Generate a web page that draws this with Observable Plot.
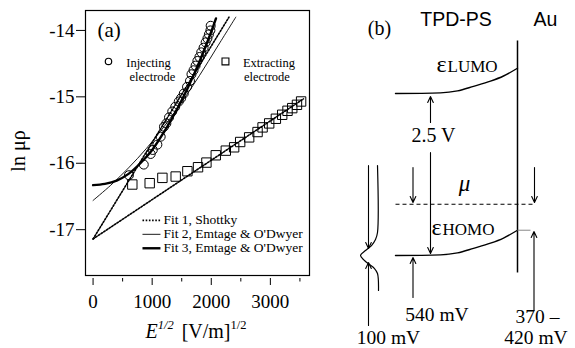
<!DOCTYPE html>
<html><head><meta charset="utf-8">
<script src="https://cdn.jsdelivr.net/npm/d3@7"></script>
<script src="https://cdn.jsdelivr.net/npm/@observablehq/plot@0.6"></script>
<style>
body{margin:0;background:#fff;}
#wrap{display:flex;width:575px;height:348px;background:#fff;}
svg{display:block}
</style></head><body><div id="wrap"></div>
<script>
// ---------- Panel (a) data ----------
const injectE  = [607, 858, 975, 1010, 1088, 1144, 1200, 1240, 1285, 1340, 1390, 1450, 1490, 1535, 1590, 1640, 1665, 1700, 1735, 1765, 1800, 1830, 1870, 1905, 1935, 1960, 1985, 1990];
const injectLn = [-16.18, -16.02, -15.86, -15.80, -15.72, -15.60, -15.45, -15.40, -15.31, -15.22, -15.15, -15.07, -15.02, -14.95, -14.85, -14.76, -14.66, -14.60, -14.53, -14.46, -14.40, -14.33, -14.26, -14.18, -14.12, -14.06, -14.00, -13.93];
const extractE  = [664, 958, 1173, 1398, 1596, 1776, 1918, 2076, 2246, 2387, 2489, 2641, 2783, 2868, 2980, 3093, 3200, 3290, 3370, 3450, 3520];
const extractLn = [-16.32, -16.30, -16.22, -16.20, -16.12, -16.06, -15.99, -15.88, -15.81, -15.76, -15.68, -15.61, -15.53, -15.46, -15.40, -15.33, -15.27, -15.21, -15.17, -15.12, -15.07];
const fit1InjE = [0, 2300],  fit1InjLn = [-17.14, -13.80];
const fit1ExtE = [0, 3560],  fit1ExtLn = [-17.14, -15.03];
const fit2E  = [0, 300, 600, 900, 1200, 1500, 1800, 2100, 2415];
const fit2Ln = [-16.56, -16.33, -16.07, -15.78, -15.45, -15.08, -14.68, -14.25, -13.80];
const fit3E  = [0, 200, 400, 600, 800, 1000, 1200, 1400, 1600, 1800, 2000, 2080];
const fit3Ln = [-16.33, -16.31, -16.26, -16.16, -16.00, -15.80, -15.53, -15.22, -14.87, -14.47, -14.02, -13.82];
const xMajor = [0, 1000, 2000, 3000];
const xMinor = [500, 1500, 2500, 3500];
const yTicks = [-17, -16, -15, -14];
const fitLabels = ["Fit 1, Shottky", "Fit 2, Emtage & O'Dwyer", "Fit 3, Emtage & O'Dwyer"];

// ---------- Panel (b) data (energies in V, HOMO bulk = 0) ----------
const levelLUMO = 2.5, levelHOMO = 0, levelMu = 0.79;
const bendX      = [395, 440, 457, 473, 490, 503, 517];
const bendOffset = [0, 0.01, 0.04, 0.11, 0.19, 0.27, 0.39];
const auX = 517, auTop = 3.318, auBottom = -0.262;
const muX = [395, 535];
const contactX = [517, 530];
const dosX = [377, 377, 375, 371, 365, 360, 364, 369, 374, 377, 378];
const dosE = [1.389, 0.355, 0.247, 0.154, 0.077, 0, -0.077, -0.139, -0.201, -0.278, -0.540];
const arrowsB = [
  {x: 430,   e1: 2.052,  e2: 2.454},
  {x: 430,   e1: 1.590,  e2: 0.031},
  {x: 412.5, e1: 1.358,  e2: 0.818},
  {x: 534,   e1: 1.358,  e2: 0.818},
  {x: 412.5, e1: -0.648, e2: -0.031},
  {x: 533.5, e1: -0.849, e2: 0.370},
  {x: 368,   e1: 1.389,  e2: 0.108},
  {x: 368,   e1: -1.080, e2: -0.108}
];
const labelsSerif = [
  {t: "(b)",    x: 379,   e: 3.395,  s: 20, a: "middle"},
  {t: "ε",      x: 446,   e: 2.824,  s: 24, a: "end"},
  {t: "LUMO",   x: 447,   e: 2.824,  s: 17, a: "start"},
  {t: "ε",      x: 441,   e: 0.324,  s: 24, a: "end"},
  {t: "HOMO",   x: 442,   e: 0.324,  s: 17, a: "start"},
  {t: "2.5 V",  x: 433,   e: 1.759,  s: 20, a: "middle"},
  {t: "540 mV", x: 436.5, e: -1.003, s: 19.5, a: "middle"},
  {t: "100 mV", x: 388,   e: -1.358, s: 19.5, a: "middle"},
  {t: "370 –",  x: 537,   e: -1.049, s: 19.5, a: "middle"},
  {t: "420 mV", x: 535.5, e: -1.358, s: 19.5, a: "middle"}
];
const labelMu = [{t: "μ", x: 464, e: 0.988}];
const labelsSans = [{t: "TPD-PS", x: 455.5, e: 3.549}, {t: "Au", x: 545, e: 3.549}];

// ---------- build ----------
const SERIF = "Liberation Serif";
const zip = (xs, ys) => xs.map((x, i) => ({x, y: ys[i]}));
const inject = zip(injectE, injectLn);
const extract = zip(extractE, extractLn);

// legend positions in data units of panel (a)
const legendLineX1 = 836, legendLineX2 = 1140, legendTextX = 1191;
const legendLineY = [-16.86, -17.07, -17.28];
const legendTextY = [-16.92, -17.13, -17.34];

const A = Plot.plot({
  width: 320, height: 348,
  marginLeft: 85, marginRight: 11, marginTop: 10, marginBottom: 73,
  x: {domain: [-128, 3662]},
  y: {domain: [-17.69, -13.70]},
  style: {fontFamily: SERIF, background: "white", color: "black", overflow: "visible"},
  marks: [
    Plot.frame({strokeWidth: 1.2}),
    Plot.axisY({ticks: yTicks, tickSize: 9, tickPadding: 2, tickFormat: d => String(d), fontSize: 19, fontFamily: SERIF, label: null}),
    Plot.axisX({ticks: xMajor, tickSize: 7, tickPadding: 9, dy: 3, tickFormat: d => String(d), fontSize: 19, fontFamily: SERIF, label: null}),
    Plot.axisX({ticks: xMinor, tickSize: 3.5, dy: 3, tickFormat: () => "", label: null}),
    Plot.line(zip(fit1InjE, fit1InjLn), {x: "x", y: "y", strokeWidth: 1.6, strokeDasharray: "1.6 1.6"}),
    Plot.line(zip(fit1ExtE, fit1ExtLn), {x: "x", y: "y", strokeWidth: 1.6, strokeDasharray: "1.6 1.6"}),
    Plot.line(zip(fit2E, fit2Ln), {x: "x", y: "y", strokeWidth: 0.9, curve: "catmull-rom"}),
    Plot.line(zip(fit3E, fit3Ln), {x: "x", y: "y", strokeWidth: 2.4, curve: "catmull-rom"}),
    Plot.dot(inject, {x: "x", y: "y", r: 4.5, stroke: "black", strokeWidth: 1, fill: "none"}),
    Plot.dot(extract, {x: "x", y: "y", r: 5.3, symbol: "square", stroke: "black", strokeWidth: 1, fill: "none"}),
    // legend: markers
    Plot.dot([{x: 261, y: -14.467}], {x: "x", y: "y", r: 3.2, stroke: "black", strokeWidth: 1.2, fill: "none"}),
    Plot.dot([{x: 2240, y: -14.467}], {x: "x", y: "y", r: 3.9, symbol: "square", stroke: "black", strokeWidth: 1.1, fill: "none"}),
    Plot.text([{t: "Injecting", x: 937, y: -14.549}, {t: "electrode", x: 1005, y: -14.760},
               {t: "Extracting", x: 2976, y: -14.549}, {t: "electrode", x: 2942, y: -14.760}],
      {x: "x", y: "y", text: "t", fontSize: 12.5, fontFamily: SERIF, lineAnchor: "bottom", textAnchor: "middle"}),
    Plot.text([{t: "(a)", x: 75, y: -14.105}], {x: "x", y: "y", text: "t", fontSize: 21, fontFamily: SERIF, lineAnchor: "bottom", textAnchor: "start"}),
    // legend: fits
    Plot.link([0], {x1: legendLineX1, x2: legendLineX2, y1: legendLineY[0], y2: legendLineY[0], strokeWidth: 1.6, strokeDasharray: "1.6 1.6"}),
    Plot.link([0], {x1: legendLineX1, x2: legendLineX2, y1: legendLineY[1], y2: legendLineY[1], strokeWidth: 0.9}),
    Plot.link([0], {x1: legendLineX1, x2: legendLineX2, y1: legendLineY[2], y2: legendLineY[2], strokeWidth: 2.4}),
    Plot.text(fitLabels, {x: legendTextX, y: (d, i) => legendTextY[i], text: d => d, fontSize: 13.5, fontFamily: SERIF, lineAnchor: "bottom", textAnchor: "start"}),
    // y label
    Plot.text(["ln μρ"], {frameAnchor: "left", text: d => d, rotate: -90, dx: -61, dy: 8, fontSize: 20, fontFamily: SERIF, lineAnchor: "bottom", textAnchor: "middle"})
  ]
});

// x-axis title with italic E and superscripts
const t = d3.select(A).append("text")
  .attr("x", 196).attr("y", 338).attr("text-anchor", "middle")
  .attr("font-family", SERIF).attr("font-size", 20).attr("fill", "black");
t.append("tspan").attr("font-style", "italic").text("E");
t.append("tspan").attr("font-style", "italic").attr("font-size", 12.5).attr("dy", -9).text("1/2");
t.append("tspan").attr("dy", 9).attr("dx", 8).text("[V/m]");
t.append("tspan").attr("font-size", 12.5).attr("dy", -9).text("1/2");

const curveData = base => bendX.map((x, i) => ({x, e: base + bendOffset[i]}));
const serifText = anchor => Plot.text(labelsSerif.filter(d => d.a === anchor),
  {x: "x", y: "e", text: "t", fontSize: "s", fontFamily: SERIF, textAnchor: anchor, lineAnchor: "bottom"});

const B = Plot.plot({
  width: 255, height: 348,
  marginLeft: 0, marginRight: 0, marginTop: 0, marginBottom: 0,
  x: {domain: [320, 575], axis: null},
  y: {domain: [-1.435, 3.935], axis: null},
  style: {fontFamily: SERIF, background: "white", color: "black", overflow: "visible"},
  marks: [
    Plot.line(curveData(levelLUMO), {x: "x", y: "e", strokeWidth: 1.4, curve: "monotone-x"}),
    Plot.line(curveData(levelHOMO), {x: "x", y: "e", strokeWidth: 1.4, curve: "monotone-x"}),
    Plot.link([0], {x1: auX, x2: auX, y1: auTop, y2: auBottom, strokeWidth: 1.5}),
    Plot.link([0], {x1: muX[0], x2: muX[1], y1: levelMu, y2: levelMu, strokeWidth: 1.1, strokeDasharray: "4 3"}),
    Plot.link([0], {x1: contactX[0], x2: contactX[1], y1: levelHOMO + bendOffset[bendOffset.length - 1], y2: levelHOMO + bendOffset[bendOffset.length - 1], stroke: "#888", strokeWidth: 1}),
    Plot.line(zip(dosX, dosE), {x: "x", y: "y", strokeWidth: 1.2, curve: "catmull-rom"}),
    Plot.arrow(arrowsB, {x1: "x", x2: "x", y1: "e1", y2: "e2", strokeWidth: 1.1, headLength: 9, headAngle: 50}),
    serifText("middle"), serifText("start"), serifText("end"),
    Plot.text(labelMu, {x: "x", y: "e", text: "t", fontSize: 23, fontFamily: SERIF, fontStyle: "italic", lineAnchor: "bottom", textAnchor: "middle"}),
    Plot.text(labelsSans, {x: "x", y: "e", text: "t", fontSize: 19.5, fontFamily: "Liberation Sans", lineAnchor: "bottom", textAnchor: "middle"})
  ]
});

document.getElementById("wrap").append(A, B);
</script></body></html>
